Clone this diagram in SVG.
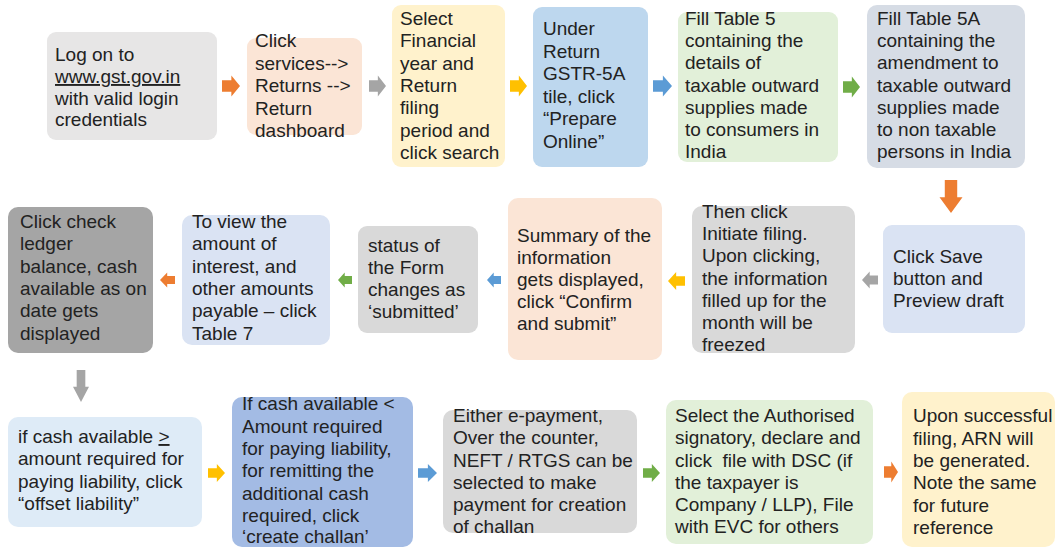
<svg xmlns="http://www.w3.org/2000/svg" xmlns:xlink="http://www.w3.org/1999/xlink" width="1057" height="549" viewBox="0 0 1057 549">
  <style>
    text { font-family: "Liberation Sans", Arial, sans-serif; font-size: 19px; fill: #222; }
    .box { stroke: none; }
    .gray1 { fill: #e7e6e6; }
    .gray2 { fill: #d9d9d9; }
    .gray3 { fill: #a5a5a5; }
    .peach { fill: #fbe5d6; }
    .yellow { fill: #fff2cc; }
    .blue { fill: #bdd7ee; }
    .green { fill: #e2f0d9; }
    .slate { fill: #d6dce5; }
    .pale { fill: #dae3f3; }
    .sky { fill: #deebf7; }
    .mid { fill: #a3bbe4; }
    .a-orange { fill: #ed7d31; }
    .a-gray { fill: #a5a5a5; }
    .a-yellow { fill: #ffc000; }
    .a-blue { fill: #5b9bd5; }
    .a-green { fill: #70ad47; }
  </style>
  <defs>
    <!-- unit block arrow: length 1 along +x, height 1 centred on y=0 -->
    <path id="blk" d="M0,-0.27 H0.52 V-0.5 L1,0 L0.52,0.5 V0.27 H0 Z"/>
  </defs>
  <rect width="1057" height="549" fill="#ffffff"/>

  <g id="connectors">
    <!-- row 1, left to right -->
    <use xlink:href="#blk" class="a-orange" transform="translate(222,86) scale(18,21)"/>
    <use xlink:href="#blk" class="a-gray" transform="translate(369,86) scale(17,21)"/>
    <use xlink:href="#blk" class="a-yellow" transform="translate(510,86) scale(17,21)"/>
    <use xlink:href="#blk" class="a-blue" transform="translate(653,86) scale(19,21)"/>
    <use xlink:href="#blk" class="a-green" transform="translate(843,87) scale(17,21)"/>
    <!-- down to row 2 -->
    <use xlink:href="#blk" class="a-orange" transform="translate(951,180) rotate(90) scale(33,23)"/>
    <!-- row 2, right to left -->
    <use xlink:href="#blk" class="a-gray" transform="translate(878,280) scale(-16,17)"/>
    <use xlink:href="#blk" class="a-yellow" transform="translate(685,281) scale(-17,18)"/>
    <use xlink:href="#blk" class="a-blue" transform="translate(501,280) scale(-14,15)"/>
    <use xlink:href="#blk" class="a-green" transform="translate(352,280) scale(-14,15)"/>
    <use xlink:href="#blk" class="a-orange" transform="translate(175,280) scale(-15,15)"/>
    <!-- down to row 3 -->
    <use xlink:href="#blk" class="a-gray" transform="translate(81,370) rotate(90) scale(32,16)"/>
    <!-- row 3, left to right -->
    <use xlink:href="#blk" class="a-yellow" transform="translate(208,473) scale(17,18)"/>
    <use xlink:href="#blk" class="a-blue" transform="translate(418,473) scale(19,18)"/>
    <use xlink:href="#blk" class="a-green" transform="translate(643,473) scale(17,18)"/>
    <use xlink:href="#blk" class="a-orange" transform="translate(884,472) scale(14,21)"/>
  </g>

  <!-- row 1 -->
  <g id="login">
    <rect class="box gray1" x="47" y="32" width="170" height="108" rx="9"/>
    <text x="55" y="61">Log on to</text>
    <text x="55" y="83" text-decoration="underline">www.gst.gov.in</text>
    <text x="55" y="104.5">with valid login</text>
    <text x="55" y="126">credentials</text>
  </g>
  <g id="services">
    <rect class="box peach" x="247" y="38" width="115" height="97" rx="9"/>
    <text x="255" y="47">Click</text>
    <text x="255" y="70">services--&gt;</text>
    <text x="255" y="92">Returns --&gt;</text>
    <text x="255" y="115">Return</text>
    <text x="255" y="137">dashboard</text>
  </g>
  <g id="select-period">
    <rect class="box yellow" x="392" y="5" width="113" height="162" rx="9"/>
    <text x="400" y="25">Select</text>
    <text x="400" y="47">Financial</text>
    <text x="400" y="69.5">year  and</text>
    <text x="400" y="92">Return</text>
    <text x="400" y="114">filing</text>
    <text x="400" y="136.5">period  and</text>
    <text x="400" y="159">click search</text>
  </g>
  <g id="prepare-online">
    <rect class="box blue" x="533" y="7" width="115" height="160" rx="9"/>
    <text x="543" y="35">Under</text>
    <text x="543" y="57.5">Return</text>
    <text x="543" y="80">GSTR-5A</text>
    <text x="543" y="102.5">tile, click</text>
    <text x="543" y="125">“Prepare</text>
    <text x="543" y="147.5">Online”</text>
  </g>
  <g id="table-5">
    <rect class="box green" x="678" y="12" width="160" height="150" rx="9"/>
    <text x="685" y="25">Fill Table 5</text>
    <text x="685" y="47">containing the</text>
    <text x="685" y="69">details of</text>
    <text x="685" y="91.5">taxable outward</text>
    <text x="685" y="113.5">supplies made</text>
    <text x="685" y="135.5">to consumers in</text>
    <text x="685" y="157.5">India</text>
  </g>
  <g id="table-5a">
    <rect class="box slate" x="867" y="5" width="158" height="163" rx="10"/>
    <text x="877" y="25">Fill Table 5A</text>
    <text x="877" y="47">containing the</text>
    <text x="877" y="69">amendment to</text>
    <text x="877" y="91.5">taxable outward</text>
    <text x="877" y="113.5">supplies made</text>
    <text x="877" y="135.5">to non taxable</text>
    <text x="877" y="158">persons in India</text>
  </g>

  <!-- row 2 -->
  <g id="save-preview">
    <rect class="box pale" x="883" y="225" width="142" height="108" rx="9"/>
    <text x="893" y="263">Click Save</text>
    <text x="893" y="285">button and</text>
    <text x="893" y="307">Preview draft</text>
  </g>
  <g id="initiate-filing">
    <rect class="box gray2" x="692" y="206" width="163" height="147" rx="10"/>
    <text x="702" y="218">Then click</text>
    <text x="702" y="240">Initiate filing.</text>
    <text x="702" y="262">Upon clicking,</text>
    <text x="702" y="285">the information</text>
    <text x="702" y="307">filled up for the</text>
    <text x="702" y="329">month will be</text>
    <text x="702" y="351">freezed</text>
  </g>
  <g id="confirm-submit">
    <rect class="box peach" x="508" y="198" width="154" height="162" rx="10"/>
    <text x="517" y="242">Summary of the</text>
    <text x="517" y="263.5">information</text>
    <text x="517" y="285.5">gets displayed,</text>
    <text x="517" y="307.5">click “Confirm</text>
    <text x="517" y="330">and submit”</text>
  </g>
  <g id="status-submitted">
    <rect class="box gray2" x="358" y="226" width="120" height="107" rx="9"/>
    <text x="368" y="252">status of</text>
    <text x="368" y="273.5">the Form</text>
    <text x="368" y="295.5">changes as</text>
    <text x="368" y="318">‘submitted’</text>
  </g>
  <g id="table-7">
    <rect class="box pale" x="182" y="215" width="148" height="130" rx="10"/>
    <text x="192" y="228">To view the</text>
    <text x="192" y="250">amount of</text>
    <text x="192" y="272.5">interest, and</text>
    <text x="192" y="295">other amounts</text>
    <text x="192" y="317">payable – click</text>
    <text x="192" y="339.5">Table 7</text>
  </g>
  <g id="ledger-balance">
    <rect class="box gray3" x="8" y="207" width="145" height="146" rx="10"/>
    <text x="20" y="228">Click check</text>
    <text x="20" y="250">ledger</text>
    <text x="20" y="272.5">balance, cash</text>
    <text x="20" y="295">available as on</text>
    <text x="20" y="317">date gets</text>
    <text x="20" y="339.5">displayed</text>
  </g>

  <!-- row 3 -->
  <g id="offset-liability">
    <rect class="box sky" x="8" y="417" width="194" height="110" rx="10"/>
    <text x="18" y="443">if cash available <tspan text-decoration="underline">&gt;</tspan></text>
    <text x="18" y="465">amount required for</text>
    <text x="18" y="487.5">paying liability, click</text>
    <text x="18" y="510">“offset liability”</text>
  </g>
  <g id="create-challan">
    <rect class="box mid" x="232" y="397" width="181" height="150" rx="10"/>
    <text x="242" y="410">If cash available &lt;</text>
    <text x="242" y="432.5">Amount required</text>
    <text x="242" y="455">for paying liability,</text>
    <text x="242" y="477">for remitting the</text>
    <text x="242" y="499.5">additional cash</text>
    <text x="242" y="522">required, click</text>
    <text x="242" y="543">‘create challan’</text>
  </g>
  <g id="payment-mode">
    <rect class="box gray2" x="443" y="410" width="194" height="123" rx="10"/>
    <text x="453" y="422">Either e-payment,</text>
    <text x="453" y="444">Over the counter,</text>
    <text x="453" y="466.5">NEFT / RTGS can be</text>
    <text x="453" y="488.5">selected to make</text>
    <text x="453" y="510.5">payment for creation</text>
    <text x="453" y="532.5">of challan</text>
  </g>
  <g id="file-return">
    <rect class="box green" x="666" y="400" width="207" height="144" rx="10"/>
    <text x="675" y="422">Select the Authorised</text>
    <text x="675" y="444">signatory, declare and</text>
    <text x="675" y="466.5" xml:space="preserve">click  file with DSC (if</text>
    <text x="675" y="488.5">the taxpayer is</text>
    <text x="675" y="510.5">Company / LLP), File</text>
    <text x="675" y="532.5">with EVC for others</text>
  </g>
  <g id="arn">
    <rect class="box yellow" x="902" y="392" width="153" height="155" rx="10"/>
    <text x="913" y="422">Upon successful</text>
    <text x="913" y="444.5">filing, ARN will</text>
    <text x="913" y="467">be generated.</text>
    <text x="913" y="489">Note the same</text>
    <text x="913" y="511.5">for future</text>
    <text x="913" y="533.5">reference</text>
  </g>
</svg>
